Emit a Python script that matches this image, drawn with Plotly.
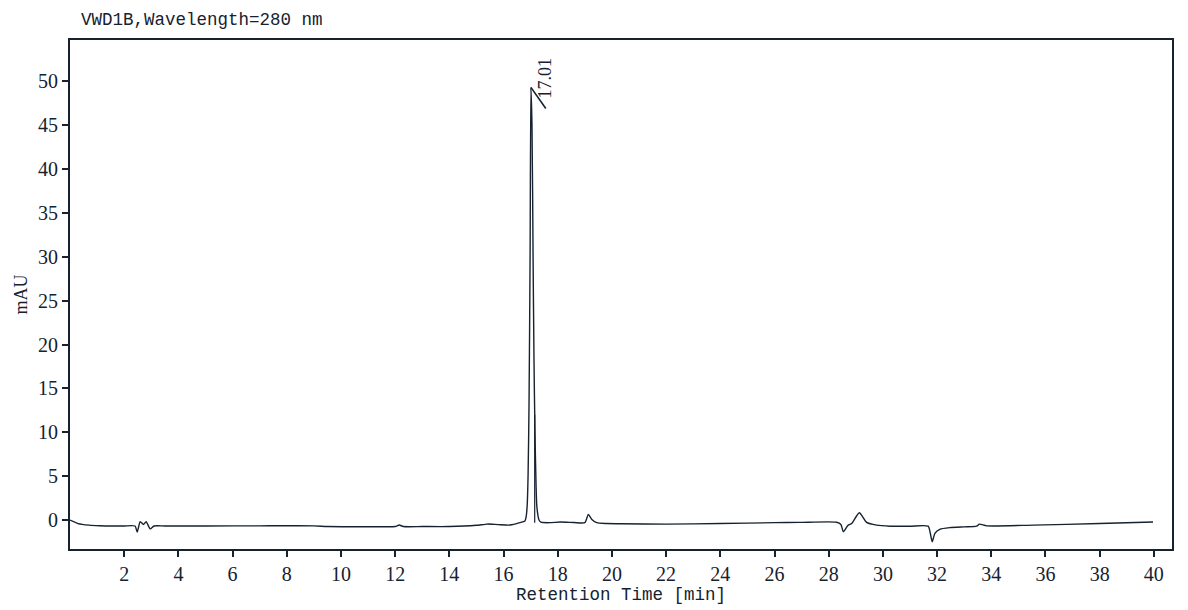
import plotly.graph_objects as go

# Chromatogram (time in min, signal in mAU)
time_min = [0.0, 0.3, 0.7, 1.1, 1.6, 2.0, 2.4, 2.48, 2.59, 2.71, 2.81, 2.96, 3.1, 3.5,
            5.0, 7.0, 9.0, 9.5, 10.5, 11.5, 12.0, 12.15, 12.3, 13.0, 14.0, 15.0, 15.4,
            15.8, 16.24, 16.6, 16.79, 16.83, 16.87, 16.905, 16.94, 16.98, 17.01, 17.05,
            17.09, 17.125, 17.16, 17.2, 17.23, 17.31, 17.38, 17.7, 18.1, 18.6, 19.0,
            19.13, 19.25, 19.44, 19.8, 20.3, 22.0, 24.0, 26.0, 26.93, 28.29, 28.45,
            28.54, 28.72, 28.85, 29.13, 29.4, 29.77, 30.26, 31.0, 31.67, 31.75, 31.82,
            31.92, 32.1, 32.47, 33.0, 33.46, 33.56, 33.83, 35.55, 38.0, 39.97]
signal_mau = [0.0, -0.4, -0.58, -0.65, -0.68, -0.68, -0.68, -1.37, -0.2, -0.5, -0.2, -1.0,
              -0.68, -0.68, -0.68, -0.66, -0.66, -0.74, -0.76, -0.76, -0.74, -0.57, -0.74,
              -0.74, -0.74, -0.6, -0.46, -0.52, -0.57, -0.3, -0.1, 0.3, 1.5, 5.0, 13.0,
              30.0, 49.3, 45.0, 30.0, 18.0, 10.0, 4.0, 1.5, 0.0, -0.25, -0.3, -0.23, -0.28,
              -0.3, 0.65, 0.1, -0.3, -0.4, -0.42, -0.46, -0.4, -0.3, -0.27, -0.25, -0.5,
              -1.33, -0.58, -0.4, 0.83, -0.27, -0.58, -0.7, -0.7, -0.7, -1.5, -2.47,
              -1.52, -1.06, -0.87, -0.78, -0.7, -0.47, -0.66, -0.58, -0.4, -0.23]

x_ticks = list(range(2, 41, 2))
y_ticks = list(range(0, 51, 5))

peak_rt = 17.01
peak_height = 49.3

ink = '#16222f'
serif = 'Liberation Serif, Times New Roman, serif'
mono = 'Liberation Mono, DejaVu Sans Mono, monospace'

fig = go.Figure()
fig.add_trace(go.Scatter(x=time_min, y=signal_mau, mode='lines',
                         line=dict(color=ink, width=1.4, shape='spline', smoothing=0.6),
                         hoverinfo='x+y', showlegend=False))

# peak drop line and label tick
fig.add_shape(type='line', x0=17.15, x1=17.15, y0=-0.3, y1=12,
              line=dict(color=ink, width=1.2))
fig.add_shape(type='line', x0=peak_rt, y0=peak_height, x1=17.56, y1=46.9,
              line=dict(color=ink, width=1.6))
fig.add_annotation(x=17.53, y=50.3, text='%.2f' % peak_rt, textangle=-90,
                   showarrow=False, font=dict(family=serif, size=18, color=ink))

# titles placed in pixels relative to the plot frame
fig.add_annotation(text='VWD1B,Wavelength=280 nm', xref='paper', yref='paper',
                   x=0, y=1, xanchor='left', yanchor='middle', xshift=9, yshift=20,
                   showarrow=False, font=dict(family=mono, size=17.5, color=ink))
fig.add_annotation(text='Retention Time [min]', xref='paper', yref='paper',
                   x=0.5, y=0, xanchor='center', yanchor='middle', yshift=-46,
                   showarrow=False, font=dict(family=mono, size=17.5, color=ink))
fig.add_annotation(text='mAU', xref='paper', yref='paper', textangle=-90,
                   x=0, y=0.5, xanchor='center', yanchor='middle', xshift=-50,
                   showarrow=False, font=dict(family=serif, size=18, color=ink))

fig.update_layout(
    width=1172, height=602,
    margin=dict(l=62, r=8, t=32, b=61, autoexpand=False),
    paper_bgcolor='white', plot_bgcolor='white',
    xaxis=dict(range=[0, 40.67], tickvals=x_ticks, ticks='outside', ticklen=6,
               tickwidth=2, tickcolor=ink, showgrid=False, zeroline=False,
               showline=True, linecolor=ink, linewidth=2, mirror=True,
               automargin=False,
               tickfont=dict(family=serif, size=20, color=ink)),
    yaxis=dict(range=[-3.3, 54.7], tickvals=y_ticks, ticks='outside', ticklen=6,
               tickwidth=2, tickcolor=ink, showgrid=False, zeroline=False,
               showline=True, linecolor=ink, linewidth=2, mirror=True,
               automargin=False,
               tickfont=dict(family=serif, size=20, color=ink)),
)

fig.write_html("out.html")
